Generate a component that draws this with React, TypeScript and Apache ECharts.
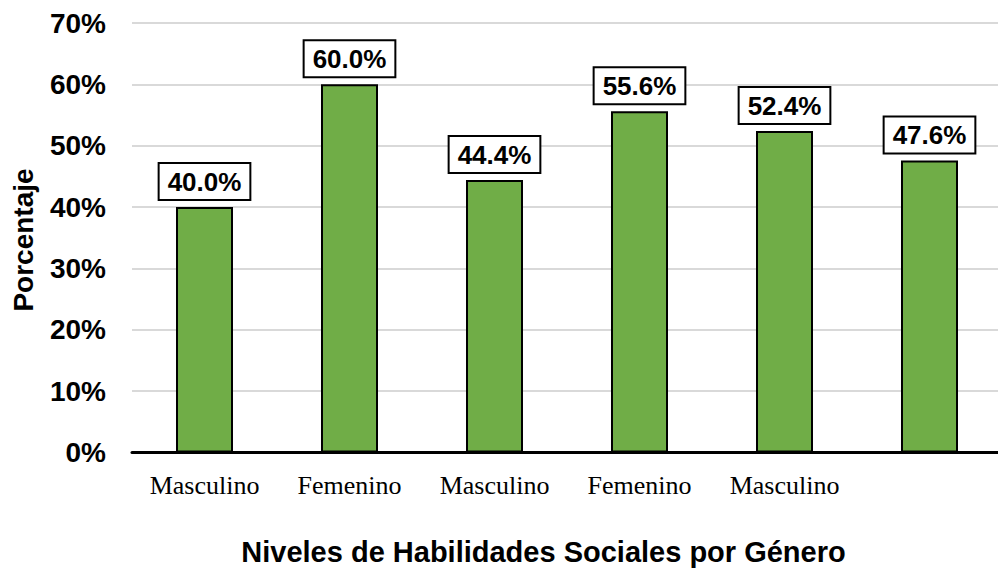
import React, { useEffect, useRef } from "react";
import * as echarts from "echarts";

const categories = ["Masculino", "Femenino", "Masculino", "Femenino", "Masculino", ""];
const values = [40.0, 60.0, 44.4, 55.6, 52.4, 47.6];
const yTicks = { min: 0, max: 70, interval: 10 };
const xTitle = "Niveles de Habilidades Sociales por Género";
const yTitle = "Porcentaje";

export default function App() {
  const ref = useRef<HTMLDivElement>(null);
  useEffect(() => {
    if (!ref.current) return;
    const chart = echarts.init(ref.current, null, { renderer: "svg" });
    const sans = "Liberation Sans, Arial, sans-serif";
    chart.setOption({
      animation: false,
      backgroundColor: "#ffffff",
      grid: {
        left: 132,
        top: 23,
        width: 870,
        height: 429.5,
        containLabel: false,
        outerBoundsMode: "none",
      },
      xAxis: {
        type: "category",
        data: categories,
        axisLine: { show: true, lineStyle: { color: "#000000", width: 3 } },
        axisTick: { show: false },
        axisLabel: {
          interval: 0,
          margin: 20,
          fontFamily: "Liberation Serif, Times New Roman, serif",
          fontSize: 26,
          color: "#000000",
        },
        splitLine: { show: false },
      },
      yAxis: {
        type: "value",
        min: yTicks.min,
        max: yTicks.max,
        interval: yTicks.interval,
        axisLine: { show: false },
        axisTick: { show: false },
        axisLabel: {
          formatter: "{value}%",
          margin: 26,
          fontFamily: sans,
          fontWeight: "bold",
          fontSize: 28,
          color: "#000000",
        },
        splitLine: { show: true, lineStyle: { color: "#d9d9d9", width: 2 } },
      },
      series: [
        {
          type: "bar",
          data: values,
          barWidth: 57,
          itemStyle: { color: "#70AD47", borderColor: "#000000", borderWidth: 2 },
          label: {
            show: true,
            position: "top",
            distance: 8,
            formatter: (p: any) => p.value.toFixed(1) + "%",
            fontFamily: sans,
            fontWeight: "bold",
            fontSize: 26,
            lineHeight: 26,
            color: "#000000",
            backgroundColor: "#ffffff",
            borderColor: "#000000",
            borderWidth: 2,
            padding: [5, 8, 4, 8],
          },
        },
      ],
      graphic: [
        {
          type: "text",
          x: 23,
          y: 240,
          rotation: Math.PI / 2,
          style: {
            text: yTitle,
            fontFamily: sans,
            fontWeight: "bold",
            fontSize: 28,
            fill: "#000000",
            textAlign: "center",
            textVerticalAlign: "middle",
          },
        },
        {
          type: "text",
          x: 543.5,
          y: 552,
          style: {
            text: xTitle,
            fontFamily: sans,
            fontWeight: "bold",
            fontSize: 29,
            fill: "#000000",
            textAlign: "center",
            textVerticalAlign: "middle",
          },
        },
      ],
    });
    return () => chart.dispose();
  }, []);
  return (
    <div
      ref={ref}
      style={{ position: "absolute", left: 0, top: 0, width: 998, height: 572 }}
    />
  );
}
